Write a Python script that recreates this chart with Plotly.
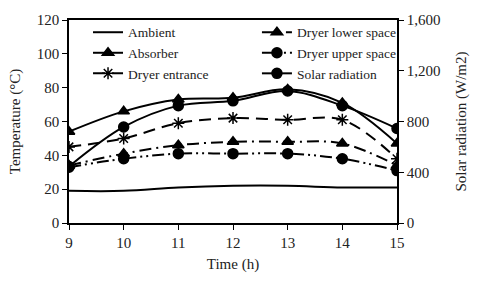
import plotly.graph_objects as go

hours = [9, 10, 11, 12, 13, 14, 15]
ambient = [19, 19, 21, 22, 22, 21, 21]
absorber = [54, 66, 73, 74, 79, 71, 47]
dryer_entrance = [45, 50, 59, 62, 61, 61, 38]
dryer_lower = [34, 41, 46, 48, 48, 47, 34]
dryer_upper = [33, 38, 41, 41, 41, 38, 31]
solar = [445, 757, 925, 963, 1040, 925, 745]

FONT = "Liberation Serif"
fig = go.Figure()

def add(name, y, symbol, dash, legend, yaxis="y", msize=10):
    fig.add_trace(go.Scatter(
        x=hours, y=y, name=name, yaxis=yaxis, legend=legend,
        mode="lines+markers" if symbol else "lines",
        line=dict(color="black", width=2, shape="spline", dash=dash),
        marker=dict(symbol=symbol or "circle", size=msize, color="black",
                    line=dict(color="black", width=1.5)),
    ))

add("Ambient", ambient, None, "solid", "legend")
add("Absorber", absorber, "triangle-up", "solid", "legend")
add("Dryer entrance", dryer_entrance, "asterisk-open", "12px,7px", "legend")
add("Dryer lower space", dryer_lower, "triangle-up", "12px,5px,2px,5px", "legend2")
add("Dryer upper space", dryer_upper, "circle", "12px,4px,2px,4px,2px,4px", "legend2")
add("Solar radiation", solar, "circle", "solid", "legend2", yaxis="y2")

axis_common = dict(showline=True, linecolor="black", linewidth=1.5, ticks="outside",
                   ticklen=5, tickcolor="black", showgrid=False, zeroline=False,
                   automargin=False,
                   tickfont=dict(family=FONT, size=15, color="#222"))

fig.update_layout(
    width=480, height=281,
    margin=dict(l=69, r=83, t=20, b=58),
    paper_bgcolor="white", plot_bgcolor="white",
    font=dict(family=FONT, size=14, color="#222"),
    showlegend=True,
    xaxis=dict(range=[9, 15], tickvals=hours, mirror=True,
               title=dict(text="Time (h)", font=dict(family=FONT, size=15), standoff=9),
               **axis_common),
    yaxis=dict(range=[0, 120], tickvals=[0, 20, 40, 60, 80, 100, 120],
               title=dict(text="Temperature (°C)", font=dict(family=FONT, size=15), standoff=13),
               **axis_common),
    yaxis2=dict(range=[0, 1600], tickvals=[0, 400, 800, 1200, 1600], tickformat=",",
                overlaying="y", side="right",
                title=dict(text="Solar radiation (W/m2)", font=dict(family=FONT, size=15), standoff=16),
                **axis_common),
    legend=dict(x=0.058, y=1.015, xanchor="left", yanchor="top", bgcolor="rgba(0,0,0,0)",
                font=dict(family=FONT, size=13.5), tracegroupgap=0, itemwidth=30),
    legend2=dict(x=0.573, y=1.015, xanchor="left", yanchor="top", bgcolor="rgba(0,0,0,0)",
                 font=dict(family=FONT, size=13.5), tracegroupgap=0, itemwidth=30),
)

fig.write_html("out.html", config={"displayModeBar": False},
               post_script="document.body.style.margin='0';")
